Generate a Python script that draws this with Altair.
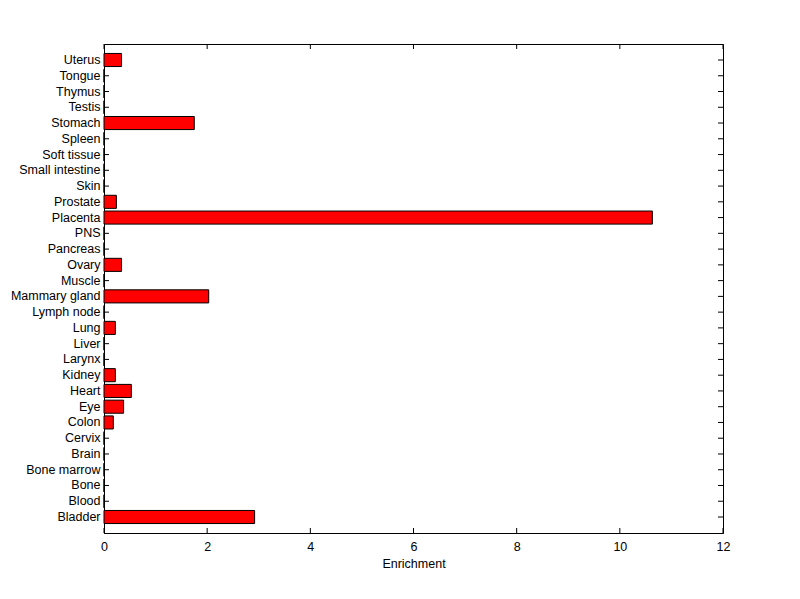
import altair as alt
import pandas as pd

tissues = ["Bladder", "Blood", "Bone", "Bone marrow", "Brain", "Cervix", "Colon", "Eye",
           "Heart", "Kidney", "Larynx", "Liver", "Lung", "Lymph node", "Mammary gland",
           "Muscle", "Ovary", "Pancreas", "PNS", "Placenta", "Prostate", "Skin",
           "Small intestine", "Soft tissue", "Spleen", "Stomach", "Testis", "Thymus",
           "Tongue", "Uterus"]
enrichment = [2.92, 0, 0, 0, 0, 0, 0.18, 0.38,
              0.53, 0.22, 0, 0, 0.22, 0, 2.03,
              0, 0.34, 0, 0, 10.63, 0.24, 0,
              0, 0, 0, 1.75, 0, 0,
              0, 0.34]
x_ticks = [0, 2, 4, 6, 8, 10, 12]

W, H = 619, 489
FONT = "Liberation Sans"
FS = 12.5

df = pd.DataFrame({"tissue": tissues, "value": enrichment})
tick_df = pd.DataFrame({"t": x_ticks})
domain_order = list(reversed(tissues))

yscale = alt.Scale(domain=domain_order, paddingInner=0.17, paddingOuter=0.6)
xscale = alt.Scale(domain=[0, 12], nice=False)

bars = alt.Chart(df).mark_bar(color="#ff0000", stroke="black", strokeWidth=1).encode(
    y=alt.Y("tissue:N", scale=yscale, sort=None,
            axis=alt.Axis(title=None, ticks=False, labelPadding=4, labelFontSize=FS,
                          labelFont=FONT, labelColor="black", domainColor="black")),
    x=alt.X("value:Q", scale=xscale,
            axis=alt.Axis(title="Enrichment", values=x_ticks, ticks=False, grid=False,
                          labelFlush=False, labelPadding=7, labelFontSize=FS, labelFont=FONT,
                          labelColor="black", titleFont=FONT, titleFontSize=FS,
                          titleFontWeight="normal", titleColor="black", titlePadding=5,
                          domainColor="black")),
)

ytick_left = alt.Chart(df).mark_rule(color="black").encode(
    y=alt.Y("tissue:N", scale=yscale, sort=None),
    x=alt.value(0), x2=alt.value(5))
ytick_right = alt.Chart(df).mark_rule(color="black").encode(
    y=alt.Y("tissue:N", scale=yscale, sort=None),
    x=alt.value(W - 5), x2=alt.value(W))
xtick_bottom = alt.Chart(tick_df).mark_rule(color="black").encode(
    x=alt.X("t:Q", scale=xscale), y=alt.value(H), y2=alt.value(H - 5))
xtick_top = alt.Chart(tick_df).mark_rule(color="black").encode(
    x=alt.X("t:Q", scale=xscale), y=alt.value(0), y2=alt.value(5))

chart = alt.layer(ytick_left, ytick_right, xtick_bottom, xtick_top, bars).properties(
    width=W, height=H,
    autosize=alt.AutoSizeParams(type="none"),
    padding={"left": 96, "top": 36, "right": 60, "bottom": 60},
    background="white",
).configure_view(stroke="black", strokeWidth=1)

chart.save("out.html", embed_options={"renderer": "svg", "actions": False})
